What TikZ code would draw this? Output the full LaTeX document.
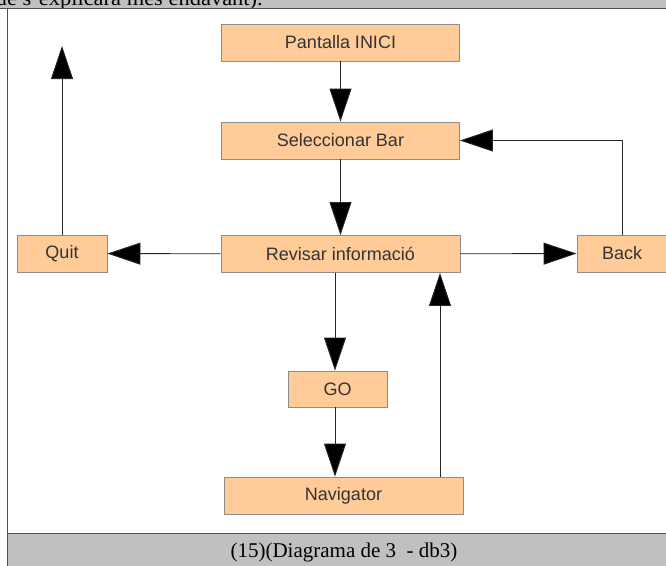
\documentclass[tikz,border=0pt]{standalone}
\usepackage{fontspec}
\setmainfont{Liberation Serif}
\newfontfamily\boxfont{Liberation Sans}
\usetikzlibrary{arrows.meta}
\definecolor{boxfill}{HTML}{FFCC99}
\definecolor{boxline}{HTML}{8C8C8C}
\definecolor{boxtext}{HTML}{333333}
\definecolor{band}{HTML}{C0C0C0}
\definecolor{frameline}{HTML}{505050}
\begin{document}
\begin{tikzpicture}[x=1pt,y=-1pt,
  stepbox/.style={draw=boxline,line width=0.9pt,fill=boxfill,inner sep=0pt,
    minimum height=37pt,text=boxtext,font=\boxfont\fontsize{18pt}{20pt}\selectfont},
  flow/.style={draw=black!85,line width=0.9pt,
    -{Triangle[length=33pt,width=22pt,fill=black]}},
  plain/.style={draw=black!85,line width=0.9pt}]
\useasboundingbox (0,0) rectangle (666,565);
\begin{scope}
  \clip (0,0) rectangle (666,565);
  % page surroundings: text line above, frame, caption band below
  \fill[band] (0,0) rectangle (666,8.5);
  \begin{scope}
    \clip (0,0) rectangle (666,8.5);
    \node[anchor=base east,inner sep=0pt,xscale=1.07,font=\fontsize{21pt}{24pt}\selectfont] (prev) at (263,5) {que s'explicarà més endavant).};
  \end{scope}
  \draw[frameline,line width=0.9pt] (0,8.5) -- (666,8.5);
  \fill[band] (7,533) rectangle (667,566);
  \draw[frameline,line width=0.9pt] (7,533) -- (667,533);
  \draw[frameline,line width=0.9pt] (7,8.5) -- (7,566);
  \node[anchor=base,inner sep=0pt,font=\fontsize{21pt}{24pt}\selectfont] (cap) at (344,557) {(15)(Diagrama de 3 \ - db3)};

  % boxes
  \node[stepbox,minimum width=238pt] (pant) at (340.5,42.5) {Pantalla INICI};
  \node[stepbox,minimum width=238pt] (sel) at (340.5,140.5) {Seleccionar Bar};
  \node[stepbox,minimum width=239pt] (rev) at (340.5,254) {Revisar informació};
  \node[stepbox,minimum width=90pt] (quit) at (62,253.5) {Quit};
  \node[stepbox,minimum width=90pt] (back) at (622,253.5) {Back};
  \node[stepbox,minimum width=99pt,minimum height=36pt] (go) at (337.5,389) {GO};
  \node[stepbox,minimum width=239pt] (nav) at (343.5,495.5) {Navigator};

  % connector helpers
  \coordinate (up) at (62,46);
  \coordinate (xgo) at (335,0);
  \coordinate (xnav) at (440,0);

  % connectors
  \draw[flow] (pant) -- (sel);
  \draw[flow] (sel) -- (rev);
  \draw[flow] (rev) -- (quit);
  \draw[flow] (quit.north) -- (up);
  \draw[flow] (rev) -- (back);
  \draw[flow] (back.north) |- (sel.east);
  \draw[flow] (rev.south -| xgo) -- (go.north -| xgo);
  \draw[flow] (go.south -| xgo) -- (nav.north -| xgo);
  \draw[flow] (nav.north -| xnav) -- (rev.south -| xnav);
\end{scope}
\end{tikzpicture}
\end{document}
